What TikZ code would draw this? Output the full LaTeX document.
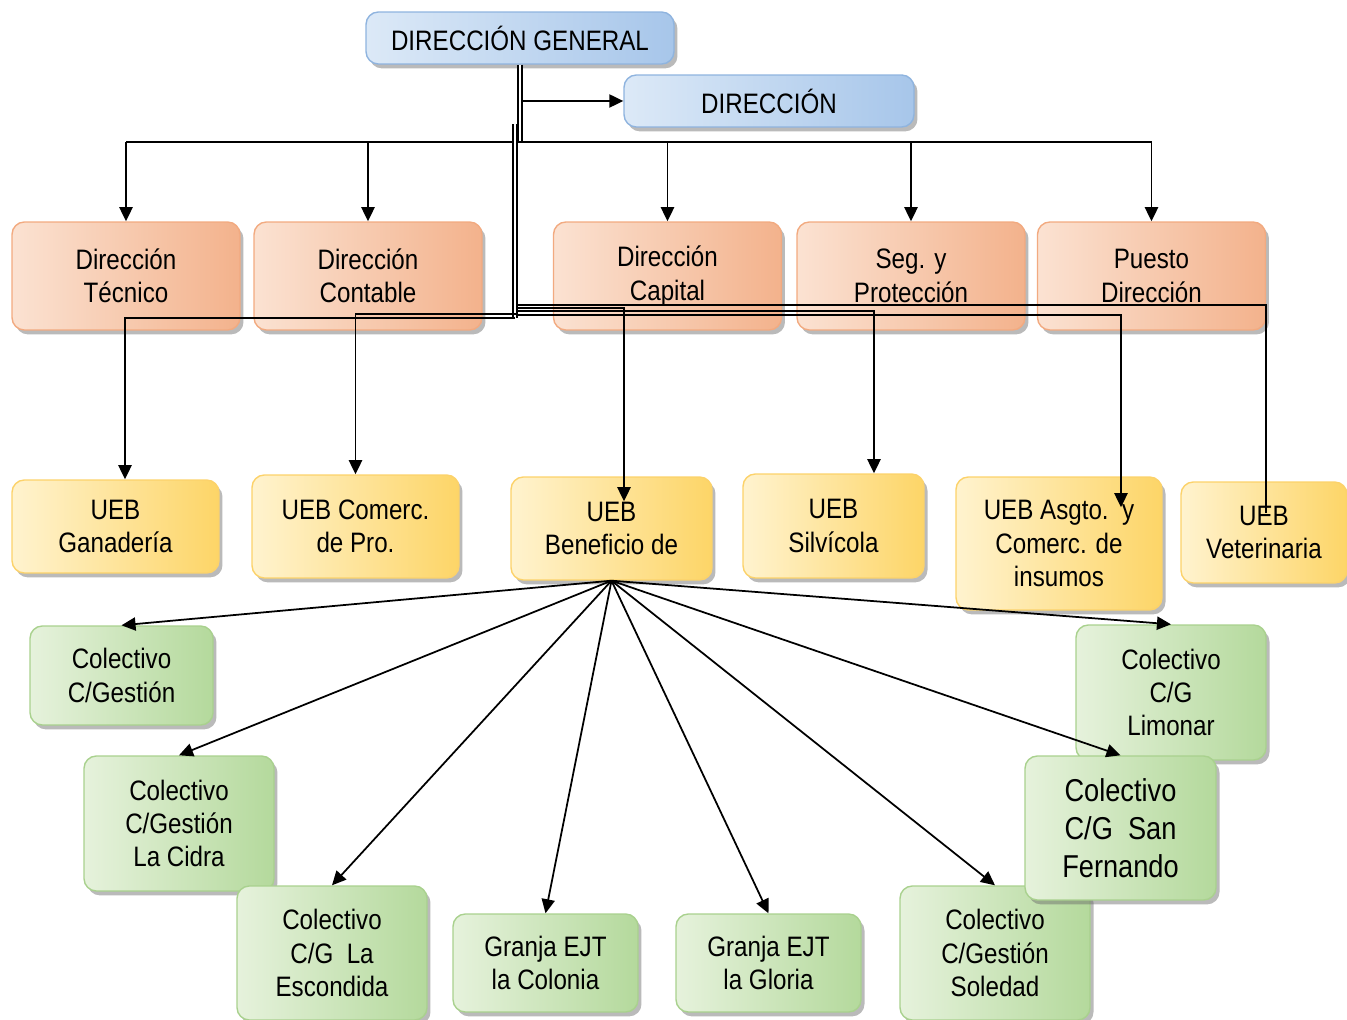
\documentclass[tikz,border=0pt]{standalone}
\usepackage{fontspec}
\newfontfamily\orgfont[FakeStretch=0.86]{Liberation Sans}
\usetikzlibrary{arrows.meta,shadows}

\definecolor{blueL}{HTML}{DCE9F7}
\definecolor{blueD}{HTML}{A7C6EA}
\definecolor{blueB}{HTML}{8FB4DF}
\definecolor{orgL}{HTML}{FBE2D2}
\definecolor{orgD}{HTML}{F3B28C}
\definecolor{orgB}{HTML}{F2AA80}
\definecolor{ylwL}{HTML}{FFF3CF}
\definecolor{ylwD}{HTML}{FDD567}
\definecolor{ylwB}{HTML}{FCD26A}
\definecolor{grnL}{HTML}{E6F2DC}
\definecolor{grnD}{HTML}{B4D99C}
\definecolor{grnB}{HTML}{A9D18E}

\tikzset{
  box/.style={rectangle, rounded corners=7pt, align=center, inner sep=2pt,
    font=\orgfont\fontsize{16}{19}\selectfont, line width=0.8pt,
    drop shadow={shadow xshift=2pt, shadow yshift=-2.5pt, opacity=0.45, fill=black!60}},
  bluebox/.style={box, left color=blueL, right color=blueD, draw=blueB,
    minimum height=1.04cm},
  orgbox/.style={box, left color=orgL, right color=orgD, draw=orgB,
    minimum width=4.56cm, minimum height=2.16cm},
  ylwbox/.style={box, left color=ylwL, right color=ylwD, draw=ylwB},
  grnbox/.style={box, left color=grnL, right color=grnD, draw=grnB},
  line/.style={line width=1pt},
  arr/.style={line width=1pt, -{Triangle[length=8pt,width=7.5pt]}},
  dbl/.style={line width=0.7pt, double, double distance=1.6pt},
}

\begin{document}
\begin{tikzpicture}[x=0.02cm, y=-0.02cm]
\useasboundingbox (0,0) rectangle (1347,1020);

% top level
\node[bluebox, minimum width=6.16cm] (dg) at (520,38) {DIRECCIÓN GENERAL};
\node[bluebox, minimum width=5.8cm] (dir) at (769,101) {DIRECCIÓN};

% direcciones
\node[orgbox] (dtec) at (126,276) {Dirección\\Técnico};
\node[orgbox] (dcont) at (368,276) {Dirección\\Contable};
\node[orgbox] (dcap) at (667.5,276) {Dirección\\Capital};
\node[orgbox] (dseg) at (911,276) {Seg. y\\Protección};
\node[orgbox] (dpues) at (1151.5,276) {Puesto\\Dirección};

% UEB
\node[ylwbox, minimum width=4.14cm, minimum height=1.86cm] (ganad) at (115.5,526.5) {UEB\\Ganadería};
\node[ylwbox, minimum width=4.14cm, minimum height=2.06cm] (comerc) at (355.5,526.5) {UEB Comerc.\\de Pro.};
\node[ylwbox, minimum width=4.02cm, minimum height=2.06cm] (benef) at (611.5,528.5) {UEB\\Beneficio de};
\node[ylwbox, minimum width=3.62cm, minimum height=2.08cm] (silvi) at (833.5,526) {UEB\\Silvícola};
\node[ylwbox, minimum width=4.12cm, minimum height=2.66cm] (asgto) at (1059,543.5) {UEB Asgto.\ \ y\\Comerc. de\\insumos};
\node[ylwbox, minimum width=3.32cm, minimum height=2.02cm] (veter) at (1264,532.5) {UEB\\Veterinaria};

% colectivos y granjas
\node[grnbox, minimum width=3.66cm, minimum height=1.98cm] (cgest) at (121.5,675.5) {Colectivo\\C/Gestión};
\node[grnbox, minimum width=3.8cm, minimum height=2.7cm] (cidra) at (179,823.5) {Colectivo\\C/Gestión\\La Cidra};
\node[grnbox, minimum width=3.8cm, minimum height=2.68cm] (escond) at (332,953) {Colectivo\\C/G\ \ La\\Escondida};
\node[grnbox, minimum width=3.7cm, minimum height=1.96cm] (colonia) at (545.5,963) {Granja EJT\\la Colonia};
\node[grnbox, minimum width=3.7cm, minimum height=1.96cm] (gloria) at (768.5,963) {Granja EJT\\la Gloria};
\node[grnbox, minimum width=3.8cm, minimum height=2.68cm] (soled) at (995,953) {Colectivo\\C/Gestión\\Soledad};
\node[grnbox, minimum width=3.8cm, minimum height=2.7cm] (limon) at (1171,692.5) {Colectivo\\C/G\\Limonar};
\node[grnbox, minimum width=3.82cm, minimum height=2.88cm, font=\orgfont\fontsize{18}{21.5}\selectfont] (sanfer) at (1120.5,828) {Colectivo\\C/G\ \ San\\Fernando};

% first trunk: general -> direcciones
\coordinate (bus) at (520,142);
\draw[dbl] (dg.south) -- (bus);
\draw[arr] ([xshift=0.06cm]dg.south |- dir.west) -- (dir.west);
\draw[line] (dtec.north |- bus) -- (dpues.north |- bus);
\foreach \n in {dtec,dcont,dcap,dseg,dpues}
  \draw[arr] (\n.north |- bus) -- (\n.north);

% second trunk: general -> UEB
\coordinate (tr) at (515,124);
\coordinate (trb) at (515,318);
\draw[dbl] (tr) -- (trb);
\draw[arr] (trb) -| ([xshift=0.19cm]ganad.north);
\draw[arr] (518,314) -| (comerc.north);
\draw[arr] (518,308) -| ([xshift=0.25cm, yshift=-0.5cm]benef.north);
\draw[arr] (518,311) -| ([xshift=0.81cm]silvi.north);
\draw[arr] (518,315) -| ([xshift=1.24cm, yshift=-0.62cm]asgto.north);
\draw[line] (518,305) -| ([xshift=0.04cm, yshift=-0.64cm]veter.north);

% UEB Beneficio -> colectivos
\foreach \n in {cgest,cidra,escond,colonia,gloria,soled,sanfer,limon}
  \draw[arr] (benef.south) -- (\n.north);
\end{tikzpicture}
\end{document}
